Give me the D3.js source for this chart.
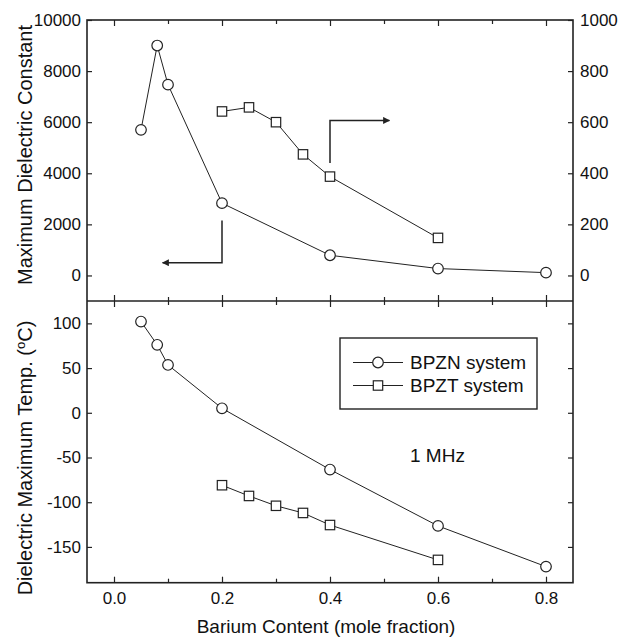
<!DOCTYPE html>
<html>
<head>
<meta charset="utf-8">
<script src="https://cdn.jsdelivr.net/npm/d3@7"></script>
<style>
  body { margin: 0; background: #fff; }
  svg { font-family: "Liberation Sans", Arial, sans-serif; }
  .tick text { fill: #111; }
</style>
</head>
<body>
<svg id="chart" width="620" height="637"></svg>
<script>
// Barium content (mole fraction)
var bpznX = [0.05, 0.08, 0.1, 0.2, 0.4, 0.6, 0.8];
var bpztX = [0.2, 0.25, 0.3, 0.35, 0.4, 0.6];

// maximum dielectric constant
var bpznEps = [5700, 9000, 7470, 2830, 790, 270, 110];   // left axis
var bpztEps = [642, 658, 600, 474, 387, 147];            // right axis

// dielectric maximum temperature (C)
var bpznTm = [102, 76, 53.5, 5, -63.5, -126.5, -172];
var bpztTm = [-81, -93, -104, -112, -125.5, -164.5];

var xTicks = [0, 0.2, 0.4, 0.6, 0.8];
var xMinor = [0.1, 0.3, 0.5, 0.7];
var epsTicks = [0, 2000, 4000, 6000, 8000, 10000];
var epsRTicks = [0, 200, 400, 600, 800, 1000];
var tmTicks = [-150, -100, -50, 0, 50, 100];

var svg = d3.select("#chart");
var padL = 87, padR = 573, padT = 20, midY = 301, padB = 582.7;
var ink = "#222";

var x = d3.scaleLinear().domain([-0.05, 0.85]).range([padL, padR]);
var yEps = d3.scaleLinear().domain([-1000, 10000]).range([midY, padT]);
var yEpsR = d3.scaleLinear().domain([-100, 1000]).range([midY, padT]);
var yTm = d3.scaleLinear().domain([-190, 125]).range([padB, midY]);

// plain hyphen for negatives, like the original
var plain = function (d) { return String(d); };

function styleAxis(g) {
    g.select(".domain").remove();
    g.selectAll(".tick line").attr("stroke", ink).attr("stroke-width", 1.2);
    g.selectAll(".tick text").attr("font-size", 17).attr("font-family", "Liberation Sans, Arial, sans-serif");
}

// x ticks: top edge, both sides of the divider, bottom edge
function xAxes(axisFn, y, labels) {
    var g = svg.append("g").attr("transform", "translate(0," + y + ")");
    g.append("g").call(axisFn(x).tickValues(xMinor).tickSize(-4).tickFormat("")).call(styleAxis);
    var a = axisFn(x).tickValues(xTicks).tickSize(-6).tickPadding(9);
    if (!labels) a.tickFormat("");
    else a.tickFormat(d3.format(".1f"));
    g.append("g").call(a).call(styleAxis);
}
xAxes(d3.axisTop, padT, false);
xAxes(d3.axisBottom, midY, false);
xAxes(d3.axisTop, midY, false);
xAxes(d3.axisBottom, padB, true);

svg.append("g").attr("transform", "translate(" + padL + ",0)")
    .call(d3.axisLeft(yEps).tickValues(epsTicks).tickSize(-5).tickPadding(6).tickFormat(plain))
    .call(styleAxis);
svg.append("g").attr("transform", "translate(" + padR + ",0)")
    .call(d3.axisRight(yEpsR).tickValues(epsRTicks).tickSize(-5).tickPadding(7).tickFormat(plain))
    .call(styleAxis);
svg.append("g").attr("transform", "translate(" + padL + ",0)")
    .call(d3.axisLeft(yTm).tickValues(tmTicks).tickSize(-5).tickPadding(6).tickFormat(plain))
    .call(styleAxis);
svg.append("g").attr("transform", "translate(" + padR + ",0)")
    .call(d3.axisRight(yTm).tickValues(tmTicks).tickSize(-5).tickFormat(""))
    .call(styleAxis);

// frames
svg.append("rect").attr("x", padL).attr("y", padT).attr("width", padR - padL).attr("height", padB - padT)
    .attr("fill", "none").attr("stroke", ink).attr("stroke-width", 1.6);
svg.append("line").attr("x1", padL).attr("x2", padR).attr("y1", midY).attr("y2", midY)
    .attr("stroke", ink).attr("stroke-width", 1.6);

// series
function series(xs, ys, yScale, shape) {
    var pts = xs.map(function (d, i) { return [x(d), yScale(ys[i])]; });
    svg.append("path").attr("d", d3.line()(pts))
        .attr("fill", "none").attr("stroke", ink).attr("stroke-width", 1);
    pts.forEach(function (p) { marker(p[0], p[1], shape); });
}
function marker(cx, cy, shape) {
    if (shape == "circle") {
        svg.append("circle").attr("cx", cx).attr("cy", cy).attr("r", 5.3)
            .attr("fill", "#fff").attr("stroke", ink).attr("stroke-width", 1.2);
    } else {
        svg.append("rect").attr("x", cx - 4.7).attr("y", cy - 4.7).attr("width", 9.4).attr("height", 9.4)
            .attr("fill", "#fff").attr("stroke", ink).attr("stroke-width", 1.2);
    }
}
series(bpznX, bpznEps, yEps, "circle");
series(bpztX, bpztEps, yEpsR, "square");
series(bpznX, bpznTm, yTm, "circle");
series(bpztX, bpztTm, yTm, "square");

// arrows pointing to the axis each series belongs to
svg.append("defs").append("marker").attr("id", "head")
    .attr("viewBox", "0 0 10 10").attr("refX", 9).attr("refY", 5)
    .attr("markerWidth", 9).attr("markerHeight", 7).attr("markerUnits", "userSpaceOnUse")
    .attr("orient", "auto")
    .append("path").attr("d", "M0,0L10,5L0,10z").attr("fill", ink);

svg.append("path")
    .attr("d", d3.line()([[x(0.2), yEps(2150)], [x(0.2), yEps(500)], [x(0.09), yEps(500)]]))
    .attr("fill", "none").attr("stroke", ink).attr("stroke-width", 1.5).attr("marker-end", "url(#head)");
svg.append("path")
    .attr("d", d3.line()([[x(0.4), yEpsR(440)], [x(0.4), yEpsR(607)], [x(0.51), yEpsR(607)]]))
    .attr("fill", "none").attr("stroke", ink).attr("stroke-width", 1.5).attr("marker-end", "url(#head)");

// legend
var lg = svg.append("g");
lg.append("rect").attr("x", 340).attr("y", 338).attr("width", 197).attr("height", 71)
    .attr("fill", "#fff").attr("stroke", ink).attr("stroke-width", 1.4);
var legendItems = [["BPZN system", "circle"], ["BPZT system", "square"]];
legendItems.forEach(function (d, i) {
    var yy = 362.5 + i * 23;
    lg.append("line").attr("x1", 353).attr("x2", 403).attr("y1", yy).attr("y2", yy)
        .attr("stroke", ink).attr("stroke-width", 1);
    marker(378, yy, d[1]);
    lg.append("text").attr("x", 410).attr("y", yy + 6.5).attr("font-size", 19).attr("fill", "#111").text(d[0]);
});

svg.append("text").attr("x", 410).attr("y", 462).attr("font-size", 19).attr("fill", "#111").text("1 MHz");

// axis titles
svg.append("text").attr("transform", "translate(32," + 155 + ") rotate(-90)")
    .attr("text-anchor", "middle").attr("font-size", 20).attr("fill", "#111")
    .text("Maximum Dielectric Constant");
var t2 = svg.append("text").attr("transform", "translate(32," + 458 + ") rotate(-90)")
    .attr("text-anchor", "middle").attr("font-size", 20).attr("fill", "#111");
t2.append("tspan").text("Dielectric Maximum Temp. (");
t2.append("tspan").attr("font-size", 13).attr("dy", -7).text("o");
t2.append("tspan").attr("dy", 7).text("C)");
svg.append("text").attr("x", 326).attr("y", 633)
    .attr("text-anchor", "middle").attr("font-size", 19).attr("fill", "#111")
    .text("Barium Content (mole fraction)");
</script>
</body>
</html>
